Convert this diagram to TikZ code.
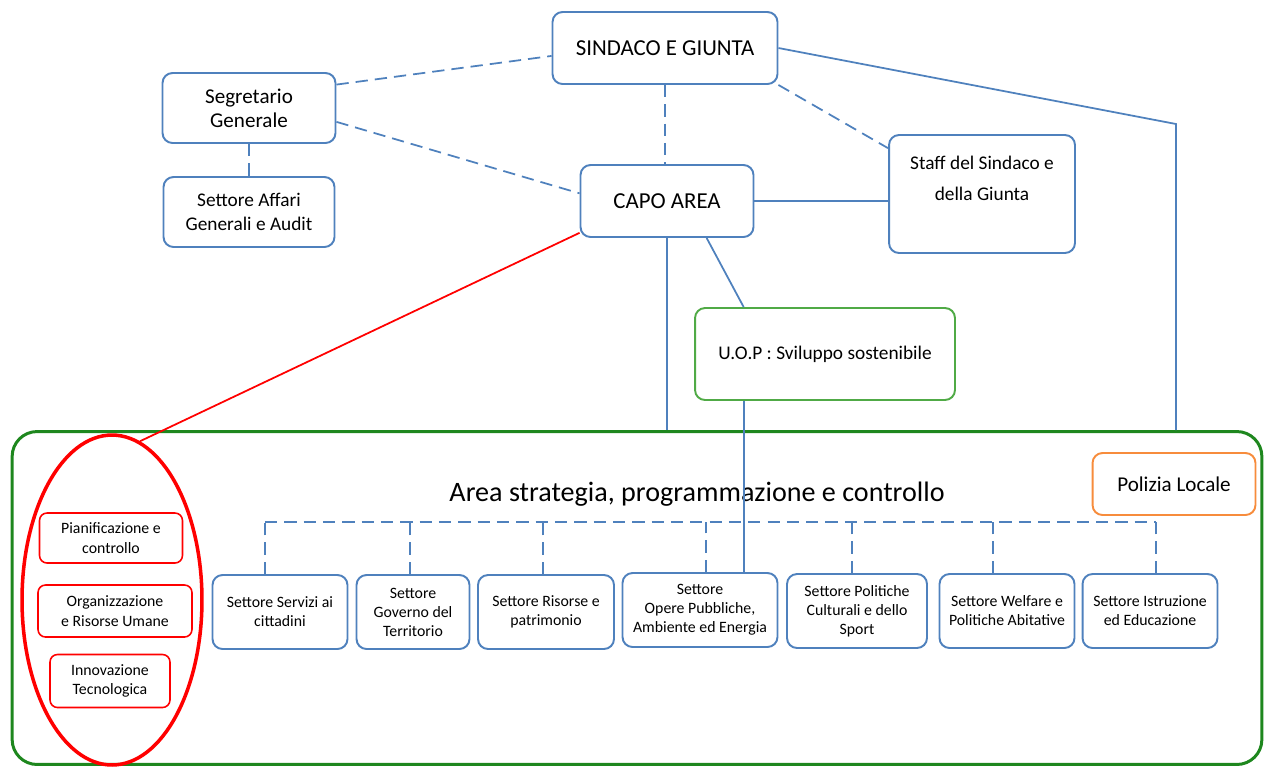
\documentclass[tikz,border=0pt]{standalone}
\usepackage{fontspec}
\setmainfont{Carlito}
\usepackage{xcolor}
\usepackage{tikz}
\usetikzlibrary{shapes}
\usetikzlibrary{arrows,positioning}

\definecolor{bordoblu}{RGB}{79,129,189}
\definecolor{verdearea}{RGB}{30,135,30}
\definecolor{verdeuop}{RGB}{80,170,70}
\definecolor{arancio}{RGB}{247,140,60}

\begin{document}
\begin{tikzpicture}[
                x=0.02cm, y=-0.02cm,
                casella/.style={
                    draw=bordoblu,
                    line width=1.1pt,
                    rounded corners=0.2cm,
                    fill=white,
                    align=center,
                    inner sep=2pt
                },
                settore/.style={casella, minimum height=1.48cm, font=\fontsize{9}{10.8}\selectfont},
                rossa/.style={
                    draw=red,
                    line width=0.9pt,
                    rounded corners=0.15cm,
                    fill=white,
                    align=center,
                    font=\fontsize{9}{11.2}\selectfont
                },
                linea/.style={draw=bordoblu, line width=1pt},
                tratteggio/.style={linea, dash pattern=on 7pt off 4pt}
            ]
                \useasboundingbox (0,0) rectangle (1266,769);

                \node[
                    draw=verdearea,
                    line width=1.7pt,
                    rounded corners=0.5cm,
                    minimum width=25cm,
                    minimum height=6.66cm
                ] (area) at (637,598) {};
                \node[font=\fontsize{16}{18}\selectfont] (titolo) at (697,494) {Area strategia, programmazione e controllo};

                \node[casella, minimum width=4.5cm, minimum height=1.44cm, font=\fontsize{13}{15}\selectfont] (sindaco) at (665,48) {SINDACO E GIUNTA};
                \node[casella, minimum width=3.46cm, minimum height=1.4cm, font=\fontsize{12}{13.5}\selectfont] (segretario) at (249,108) {Segretario\\Generale};
                \node[casella, minimum width=3.42cm, minimum height=1.4cm, font=\fontsize{11}{13.5}\selectfont] (affari) at (249,212) {Settore Affari\\Generali e Audit};
                \node[casella, minimum width=3.46cm, minimum height=1.44cm, font=\fontsize{13}{15}\selectfont] (capo) at (667,201) {CAPO AREA};
                \node[casella, minimum width=3.72cm, minimum height=2.36cm, font=\fontsize{11}{17.5}\selectfont] (staff) at (982,194) {Staff del Sindaco e\\della Giunta\\\mbox{}};
                \node[casella, draw=verdeuop, minimum width=5.2cm, minimum height=1.84cm, font=\fontsize{11}{13}\selectfont] (uop) at (825,354) {U.O.P : Sviluppo sostenibile};
                \node[casella, draw=arancio, minimum width=3.26cm, minimum height=1.24cm, font=\fontsize{12}{14}\selectfont] (polizia) at (1174,484) {Polizia Locale};

                \node[
                    ellipse,
                    draw=red,
                    line width=2pt,
                    minimum width=3.6cm,
                    minimum height=6.6cm,
                    inner sep=0pt
                ] (anello) at (112,600) {};
                \node[rossa, minimum width=2.86cm, minimum height=1.0cm] (pianificazione) at (111,538) {Pianificazione e\\controllo};
                \node[rossa, minimum width=3.08cm, minimum height=1.04cm] (organizzazione) at (115,611) {Organizzazione\\e Risorse Umane};
                \node[rossa, minimum width=2.4cm, minimum height=1.06cm] (innovazione) at (110,681) {Innovazione\\Tecnologica};

                \node[settore, minimum width=2.7cm] (servizi) at (280,612) {Settore Servizi ai\\cittadini};
                \node[settore, minimum width=2.26cm] (governo) at (413,612) {Settore\\Governo del\\Territorio};
                \node[settore, minimum width=2.72cm] (risorse) at (546,612) {Settore Risorse e\\patrimonio};
                \node[settore, minimum width=3.1cm] (opere) at (700,610) {Settore\\Opere Pubbliche,\\Ambiente ed Energia};
                \node[settore, minimum width=2.8cm] (politiche) at (857,611) {Settore Politiche\\Culturali e dello\\Sport};
                \node[settore, minimum width=2.7cm] (welfare) at (1007,611) {Settore Welfare e\\Politiche Abitative};
                \node[settore, minimum width=2.7cm] (istruzione) at (1150,611) {Settore Istruzione\\ed Educazione};

                \coordinate (bus) at (0,522);
                \foreach \n/\dx in {servizi/-15, governo/-3, risorse/-3, opere/6, politiche/-5, welfare/-14, istruzione/6} {
                    \coordinate (giu\n) at ([xshift=\dx*0.02cm]\n.north);
                    \draw[tratteggio] (giu\n) -- (giu\n |- bus);
                }
                \draw[tratteggio] (giuservizi |- bus) -- (giuistruzione |- bus);

                \draw[tratteggio] (segretario.15) -- (sindaco.184);
                \draw[tratteggio] (segretario.-9) -- (capo.175);
                \draw[tratteggio] (segretario) -- (affari);
                \draw[tratteggio] (sindaco.south) -- (sindaco.south |- capo.north);
                \draw[tratteggio] (sindaco.south east) -- (staff.154);

                \draw[linea] (capo.east) -- (capo.east -| staff.west);
                \draw[linea] (capo.-43) -- (uop.150);
                \draw[linea] (uop.-150) -- (uop.-150 |- opere.north);
                \draw[linea] (capo.south) -- (capo.south |- area.north);
                \coordinate (angolo) at (1176,124);
                \draw[linea] (sindaco.east) -- (angolo) -- (angolo |- area.north);

                \draw[red, line width=1pt] (capo.200) -- (anello.80);
\end{tikzpicture}
\end{document}
